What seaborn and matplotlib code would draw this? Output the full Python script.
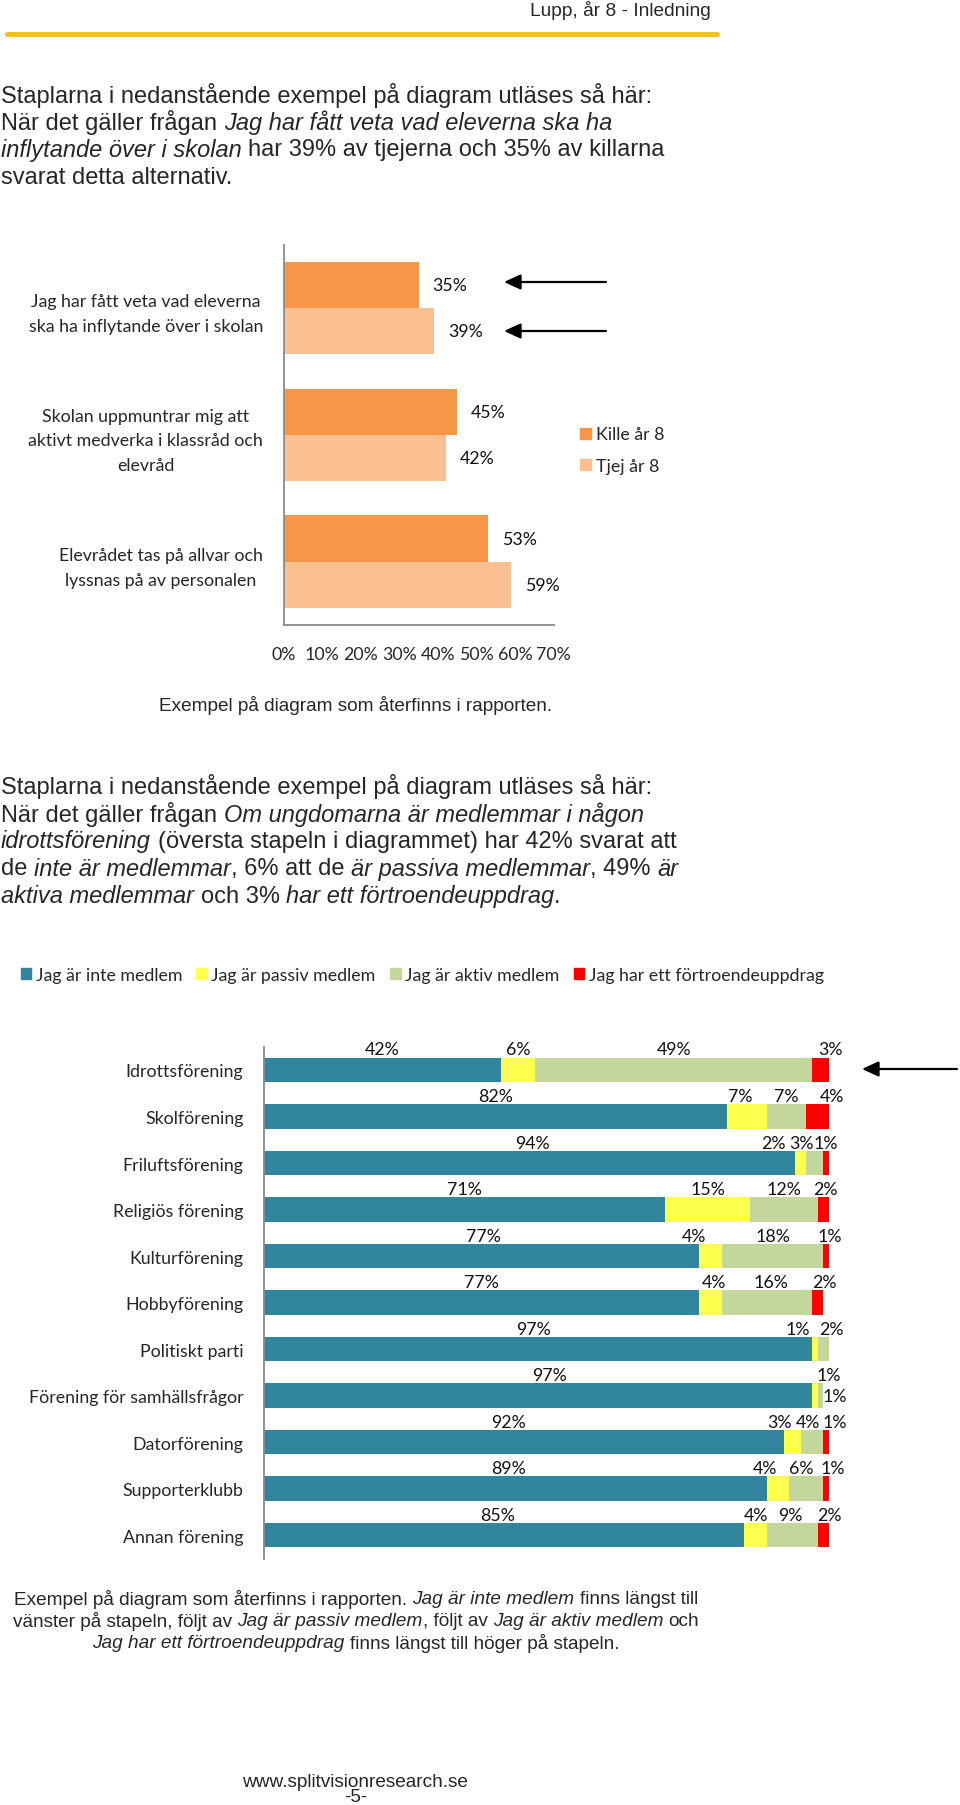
import matplotlib
matplotlib.use("Agg")
import matplotlib.pyplot as plt
from matplotlib.lines import Line2D
from matplotlib.patches import Patch
import numpy as np
import pandas as pd
import seaborn as sns

W, H = 960, 1806
BODY = "Liberation Sans"
CHART = "Lato"

# --- data, top chart (inflytande i skolan)
questions = ["Jag har fått veta vad eleverna\nska ha inflytande över i skolan",
             "Skolan uppmuntrar mig att\naktivt medverka i klassråd och\nelevråd",
             "Elevrådet tas på allvar och\nlyssnas på av personalen"]
kille = [35, 45, 53]
tjej = [39, 42, 59]
groups = ["Kille år 8", "Tjej år 8"]
ticks1 = [0, 10, 20, 30, 40, 50, 60, 70]

# --- data, bottom chart (föreningar)
clubs = ["Idrottsförening", "Skolförening", "Friluftsförening", "Religiös förening",
         "Kulturförening", "Hobbyförening", "Politiskt parti", "Förening för samhällsfrågor",
         "Datorförening", "Supporterklubb", "Annan förening"]
inte = [42, 82, 94, 71, 77, 77, 97, 97, 92, 89, 85]
passiv = [6, 7, 2, 15, 4, 4, 1, 1, 3, 4, 4]
aktiv = [49, 7, 3, 12, 18, 16, 2, 1, 4, 6, 9]
uppdrag = [3, 4, 1, 2, 1, 2, 0, 0, 1, 1, 2]
answers = ["Jag är inte medlem", "Jag är passiv medlem", "Jag är aktiv medlem",
           "Jag har ett förtroendeuppdrag"]

# hand-placed label nudges (in % along the bar), like the original report
nudge = [[0, 0, 0, 1.8], [0, -1.2, 0, 2.6], [0.5, -4.8, -2.4, 0], [0, 0, 0, 0.4],
         [0.4, -2.9, 0, 0.7], [0, 0.6, 0.8, 1.1], [-0.8, -3, 1.4, 0], [2, 2.4, 2.6, 0],
         [-2.8, -2.3, -0.8, 1.5], [-1.2, -2.4, -0.9, 1.2], [-1.1, 0, -0.3, 1.1]]

sns.set_theme(style="white")
plt.rcParams["font.family"] = [BODY, "DejaVu Sans"]

fig = plt.figure(figsize=(W / 100, H / 100), dpi=100)
renderer = fig.canvas.get_renderer()


def fpos(x, y):
    return x / W, 1 - y / H


def place(x0, y0, x1, y1):
    return fig.add_axes([x0 / W, 1 - y1 / H, (x1 - x0) / W, (y1 - y0) / H])


def text_width(s, size, italic):
    t = fig.text(0, 0, s, fontsize=size, style="italic" if italic else "normal", family=BODY)
    w = t.get_window_extent(renderer).width
    t.remove()
    return w


def rich_line(x, y, parts, size, center=False):
    # parts: (text, italic) runs, drawn one after another
    artists = []
    cur = x
    for s, it in parts:
        sp = text_width("a a", size, it) - text_width("aa", size, it)
        cur += sp * (len(s) - len(s.lstrip(" ")))
        core = s.strip(" ")
        t = fig.text(*fpos(cur, y), core, fontsize=size, style="italic" if it else "normal",
                     va="center", ha="left", family=BODY)
        cur += t.get_window_extent(renderer).width
        cur += sp * (len(s) - len(s.rstrip(" ")))
        artists.append(t)
    if center:
        shift = (cur - x) / 2
        for t in artists:
            px, py = t.get_position()
            t.set_x(px - shift / W)


def arrow(x_tail, x_head, y):
    fig.add_artist(matplotlib.patches.FancyArrowPatch(
        fpos(x_tail, y), fpos(x_head, y), transform=fig.transFigure,
        arrowstyle="-|>,head_length=10,head_width=4.6", mutation_scale=1,
        color="black", lw=1.6, shrinkA=0, shrinkB=0))


# header
fig.text(*fpos(711, 10), "Lupp, år 8 - Inledning", ha="right", va="center", fontsize=13.8)
fig.add_artist(Line2D([7 / W, 717 / W], [1 - 35 / H] * 2, color="#F2C21E", lw=3.6))

P = 17
rich_line(1, 95, [("Staplarna i nedanstående exempel på diagram utläses så här:", False)], P)
rich_line(1, 122.5, [("När det gäller frågan ", False), ("Jag har fått veta vad eleverna ska ha", True)], P)
rich_line(1, 150, [("inflytande över i skolan", True), (" har 39% av tjejerna och 35% av killarna", False)], P)
rich_line(1, 177.5, [("svarat detta alternativ.", False)], P)

# ---- top chart
df1 = pd.DataFrame({"fråga": questions * 2, "andel": kille + tjej,
                    "grupp": [groups[0]] * 3 + [groups[1]] * 3})
orange = ["#F79646", "#FAC090"]
ax1 = place(283.5, 245.5, 553.5, 626)
sns.barplot(data=df1, y="fråga", x="andel", hue="grupp", orient="h", palette=orange,
            saturation=1, width=0.727, linewidth=0, errorbar=None, legend=False, ax=ax1)
for cont, vals in zip(ax1.containers, [kille, tjej]):
    ax1.bar_label(cont, labels=[f"{v}%" for v in vals], padding=10, fontsize=12.8,
                  family=CHART, color="#111111")
ax1.set_xlim(0, 70)
ax1.set_ylim(2.5, -0.5)
ax1.set_xticks(ticks1)
ax1.set_xticklabels([f"{t}%" for t in ticks1], family=CHART, fontsize=12.8)
ax1.set_xlabel("")
ax1.set_ylabel("")
ax1.tick_params(axis="x", length=0, pad=15)
ax1.tick_params(axis="y", length=0, pad=14.8)
for lbl in ax1.get_yticklabels():
    lbl.set_family(CHART)
    lbl.set_fontsize(12.8)
    lbl.set_multialignment("center")
    lbl.set_linespacing(1.65)
sns.despine(ax=ax1)
for side in ["left", "bottom"]:
    ax1.spines[side].set_color("#8A8A8A")
    ax1.spines[side].set_linewidth(1.3)

fig.legend([Patch(color=c) for c in orange], groups, loc="center left",
           bbox_to_anchor=fpos(580, 451), frameon=False, handlelength=0.6, handleheight=0.6,
           handletextpad=0.3, labelspacing=0.85, borderpad=0, borderaxespad=0,
           prop={"family": CHART, "size": 12.8})

arrow(606, 504, 283)
arrow(606, 504, 332)

fig.text(*fpos(356, 706), "Exempel på diagram som återfinns i rapporten.", ha="center",
         va="center", fontsize=13.7)

rich_line(1, 787, [("Staplarna i nedanstående exempel på diagram utläses så här:", False)], P)
rich_line(1, 814.5, [("När det gäller frågan ", False), ("Om ungdomarna är medlemmar i någon", True)], P)
rich_line(1, 842, [("idrottsförening", True), (" (översta stapeln i diagrammet) har 42% svarat att", False)], P)
rich_line(1, 869.5, [("de ", False), ("inte är medlemmar", True), (", 6% att de ", False),
                     ("är passiva medlemmar", True), (", 49% ", False), ("är", True)], P)
rich_line(1, 897, [("aktiva medlemmar", True), (" och 3% ", False),
                   ("har ett förtroendeuppdrag", True), (".", False)], P)

# ---- bottom chart, stacked by drawing cumulative totals from the back
colors = ["#31859C", "#FFFF4D", "#C3D69B", "#FF0000"]
parts = np.array([inte, passiv, aktiv, uppdrag], dtype=float)
cum = parts.cumsum(axis=0)
ax2 = place(264, 1047.7, 829, 1559.5)
for k in [3, 2, 1, 0]:
    sns.barplot(x=cum[k], y=clubs, color=colors[k], saturation=1, orient="h", width=0.527,
                linewidth=0, errorbar=None, ax=ax2)
for i in range(len(clubs)):
    for k in range(4):
        v = int(parts[k, i])
        if v == 0:
            continue
        dy = -0.44
        if i == 7 and k == 2:
            dy = 0.0
        ax2.text(cum[k, i] - v / 2 + nudge[i][k], i + dy, f"{v}%", ha="center", va="center",
                 family=CHART, fontsize=12.8, color="#111111", clip_on=False)
ax2.set_xlim(0, 100)
ax2.set_ylim(10.5, -0.5)
ax2.set_xticks([])
ax2.set_xlabel("")
ax2.set_ylabel("")
ax2.tick_params(axis="y", length=0, pad=14.8)
for lbl in ax2.get_yticklabels():
    lbl.set_family(CHART)
    lbl.set_fontsize(12.8)
sns.despine(ax=ax2, bottom=True)
ax2.spines["left"].set_color("#8A8A8A")
ax2.spines["left"].set_linewidth(1.3)

fig.legend([Patch(color=c) for c in colors], answers, ncol=4, loc="center left",
           bbox_to_anchor=fpos(20.5, 976), frameon=False, handlelength=0.6, handleheight=0.6,
           handletextpad=0.25, columnspacing=0.8, borderpad=0, borderaxespad=0,
           prop={"family": CHART, "size": 12.8})

arrow(957, 862, 1070)

C = 13.7
rich_line(356, 1600, [("Exempel på diagram som återfinns i rapporten. ", False), ("Jag är inte medlem", True),
                      (" finns längst till", False)], C, center=True)
rich_line(356, 1622, [("vänster på stapeln, följt av ", False), ("Jag är passiv medlem", True),
                      (", följt av ", False), ("Jag är aktiv medlem", True), (" och", False)], C, center=True)
rich_line(356, 1644, [("Jag har ett förtroendeuppdrag", True), (" finns längst till höger på stapeln.", False)],
          C, center=True)

fig.text(*fpos(355, 1783), "www.splitvisionresearch.se", ha="center", va="center", fontsize=13.7)
fig.text(*fpos(356, 1798), "-5-", ha="center", va="center", fontsize=13.7)

fig.savefig("out.png", dpi=100)
